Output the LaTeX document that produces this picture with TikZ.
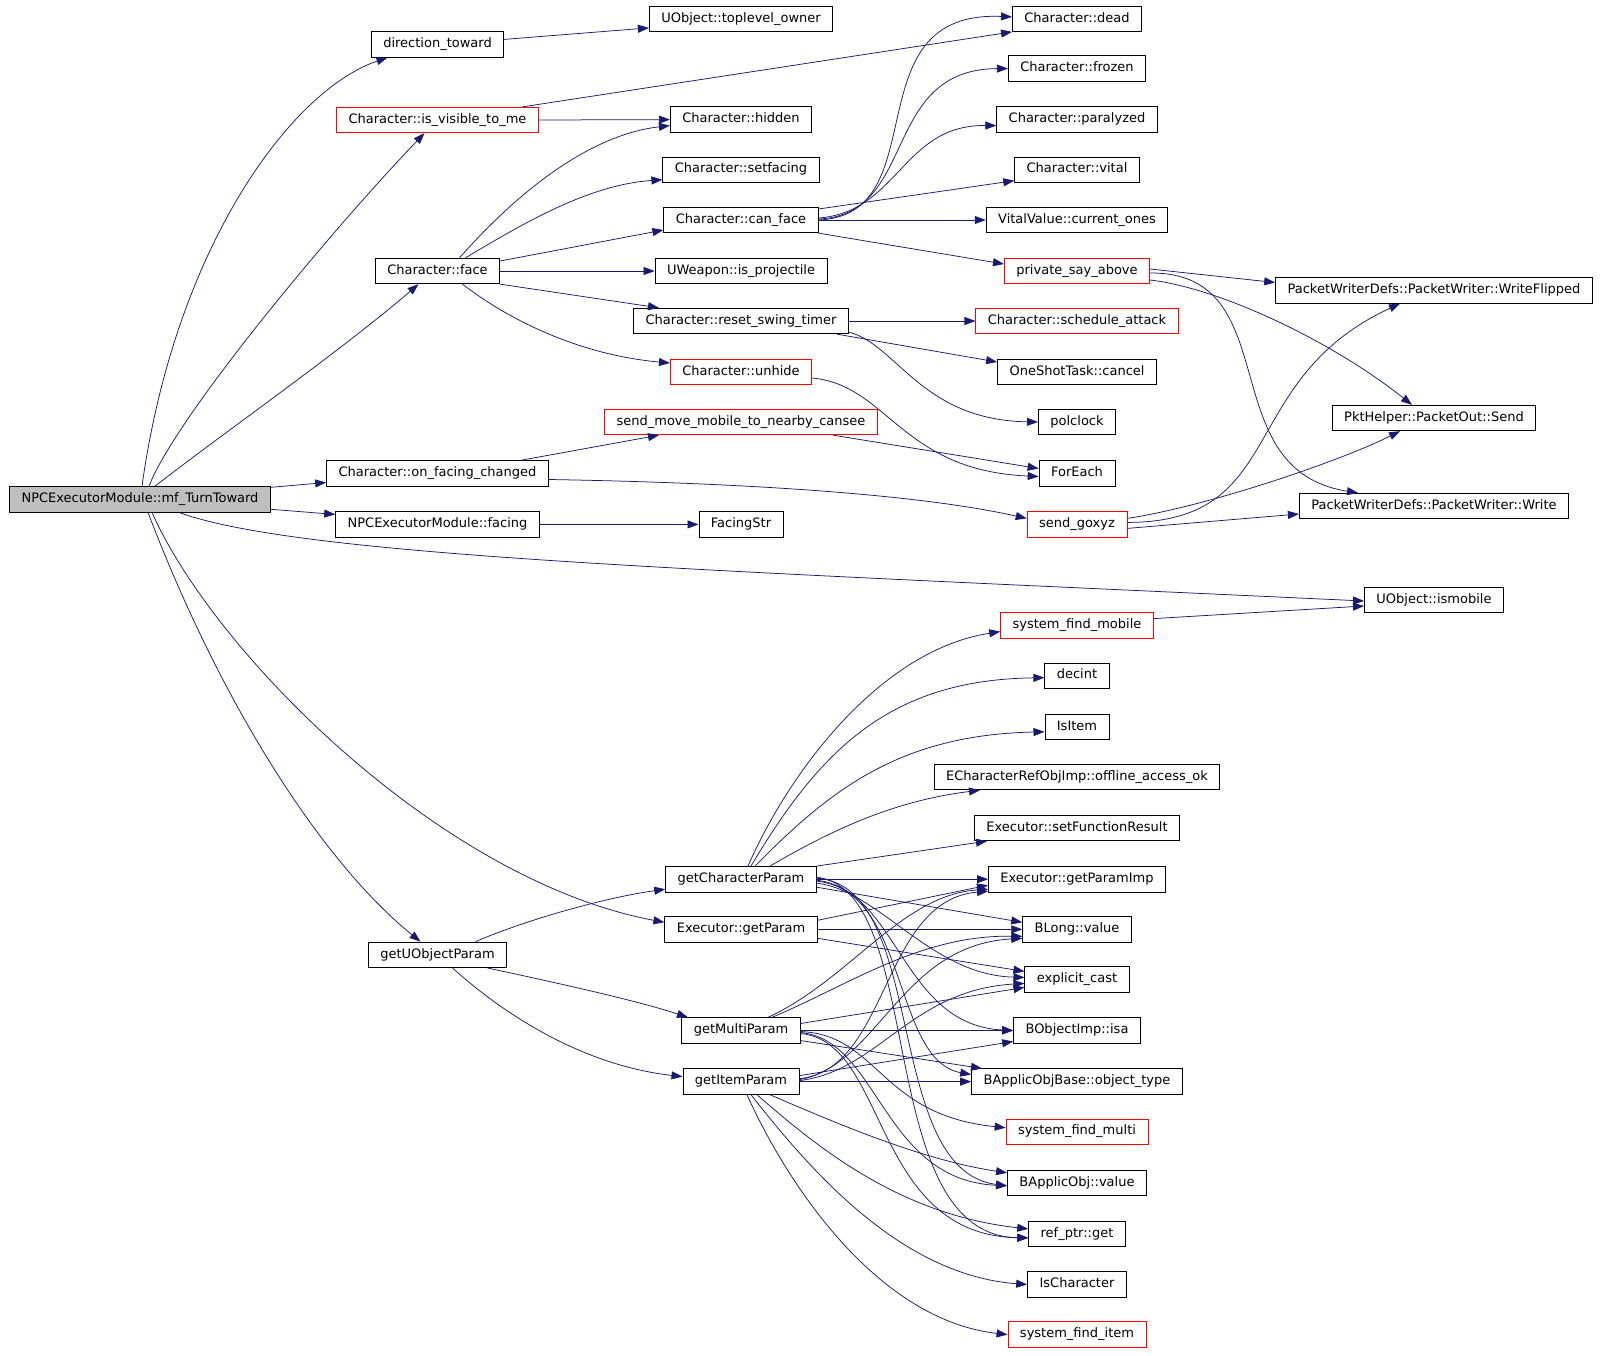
\documentclass[tikz,border=0pt]{standalone}
\usepackage{fontspec}
\setmainfont{DejaVu Sans}
\usepackage{tikz}
\usetikzlibrary{arrows.meta}
\usetikzlibrary{positioning}
\definecolor{navyedge}{HTML}{191970}
\definecolor{rootgray}{HTML}{BFBFBF}
\tikzset{fn/.style = {draw, line width = 0.8pt, inner xsep = 12pt, inner ysep = 0pt, minimum height = 25.5pt, text height = 9.5pt, text depth = 3pt, font = \fontsize{13}{15}\selectfont}}
\tikzset{fnred/.style = {fn, draw = red}}
\tikzset{fnroot/.style = {fn, fill = rootgray}}
\tikzset{call/.style = {draw = navyedge, line width = 0.75pt, -{Triangle[length = 11pt, width = 8pt]}}}

\begin{document}
\begin{tikzpicture}[x=1pt, y=-1pt]
            \useasboundingbox (0,0) rectangle (1603,1355);
            % functions
            \node [fnroot] (turn) at (140,499.3) {NPCExecutorModule::mf\_TurnToward};
            \node [fn] (dt) at (437.5,44.4) {direction\_toward};
            \node [fn] (tlo) at (741,18.9) {UObject::toplevel\_owner};
            \node [fnred] (iv) at (437.5,120) {Character::is\_visible\_to\_me};
            \node [fn] (dead) at (1077,18.9) {Character::dead};
            \node [fn] (froz) at (1077,68.5) {Character::frozen};
            \node [fn] (hid) at (741,119.6) {Character::hidden};
            \node [fn] (par) at (1077,119.6) {Character::paralyzed};
            \node [fn] (sf) at (741,169.7) {Character::setfacing};
            \node [fn] (vit) at (1077,169.7) {Character::vital};
            \node [fn] (cf) at (741,220) {Character::can\_face};
            \node [fn] (vv) at (1077,220) {VitalValue::current\_ones};
            \node [fn] (face) at (437.5,271) {Character::face};
            \node [fn] (uw) at (741,271) {UWeapon::is\_projectile};
            \node [fnred] (psa) at (1077,271) {private\_say\_above};
            \node [fn] (wf) at (1434,290.5) {PacketWriterDefs::PacketWriter::WriteFlipped};
            \node [fn] (rst) at (741,321) {Character::reset\_swing\_timer};
            \node [fnred] (sa) at (1077,321) {Character::schedule\_attack};
            \node [fnred] (uh) at (741,372) {Character::unhide};
            \node [fn] (ost) at (1077,372) {OneShotTask::cancel};
            \node [fnred] (smm) at (741,422) {send\_move\_mobile\_to\_nearby\_cansee};
            \node [fn] (pc) at (1077,422) {polclock};
            \node [fn] (pos) at (1434,418) {PktHelper::PacketOut::Send};
            \node [fn] (ofc) at (437.5,473.5) {Character::on\_facing\_changed};
            \node [fn] (fe) at (1077,473.5) {ForEach};
            \node [fn] (wr) at (1434,506) {PacketWriterDefs::PacketWriter::Write};
            \node [fn] (fac) at (437.5,524.4) {NPCExecutorModule::facing};
            \node [fn] (fs) at (741,524.4) {FacingStr};
            \node [fnred] (sg) at (1077,524.4) {send\_goxyz};
            \node [fn] (ism) at (1434,600) {UObject::ismobile};
            \node [fnred] (sfm) at (1077,625.6) {system\_find\_mobile};
            \node [fn] (dec) at (1077,675.7) {decint};
            \node [fn] (isi) at (1077,726.8) {IsItem};
            \node [fn] (ecr) at (1077,777) {ECharacterRefObjImp::offline\_access\_ok};
            \node [fn] (sfr) at (1077,828) {Executor::setFunctionResult};
            \node [fn] (gcp) at (741,879.2) {getCharacterParam};
            \node [fn] (gpi) at (1077,879.2) {Executor::getParamImp};
            \node [fn] (ep) at (741,929.3) {Executor::getParam};
            \node [fn] (bl) at (1077,929.3) {BLong::value};
            \node [fn] (guo) at (437.5,954.8) {getUObjectParam};
            \node [fn] (ec) at (1077,979.4) {explicit\_cast};
            \node [fn] (gmp) at (741,1030.5) {getMultiParam};
            \node [fn] (isa) at (1077,1030.5) {BObjectImp::isa};
            \node [fn] (gip) at (741,1081.6) {getItemParam};
            \node [fn] (ot) at (1077,1081.6) {BApplicObjBase::object\_type};
            \node [fnred] (sfmu) at (1077,1131.7) {system\_find\_multi};
            \node [fn] (bao) at (1077,1182.8) {BApplicObj::value};
            \node [fn] (rpg) at (1077,1233.9) {ref\_ptr::get};
            \node [fn] (ic) at (1077,1284.5) {IsCharacter};
            \node [fnred] (sfi) at (1077,1334.6) {system\_find\_item};

            % calls of mf_TurnToward
            \draw [call] ([xshift=2pt]turn.north) .. controls +(33,-238) and +(-97,33) .. ([xshift=-50pt]dt.south);
            \draw [call] ([xshift=9pt]turn.north) .. controls +(26,-68) and +(-94,98) .. ([xshift=-13pt]iv.south);
            \draw [call] ([xshift=15pt]turn.north) .. controls +(75,-58) and +(-78,67) .. ([xshift=-19pt]face.south);
            \draw [call] ([yshift=12pt]turn.east) -- ([yshift=-9pt]ofc.west);
            \draw [call] ([yshift=-10pt]turn.east) -- ([yshift=10pt]fac.west);
            \draw [call] ([xshift=39pt]turn.south) .. controls +(121,44) and +(-664,-31) .. ([yshift=-1pt]ism.west);
            \draw [call] ([xshift=12pt]turn.south) .. controls +(62,140) and +(-224,-42) .. ([yshift=7pt]ep.west);
            \draw [call] ([xshift=8pt]turn.south) .. controls +(72,189) and +(-100,-81) .. ([xshift=-17pt]guo.north);

            % upper part
            \draw [call] ([yshift=5pt]dt.east) -- ([yshift=-9pt]tlo.west);
            \draw [call] ([xshift=85pt]iv.north) -- ([yshift=-13pt]dead.west);
            \draw [call] (iv.east) -- (hid.west);
            \draw [call] ([xshift=22pt]face.north) .. controls +(60,-68) and +(-79,9) .. ([yshift=-6pt]hid.west);
            \draw [call] ([xshift=28pt]face.north) .. controls +(65,-39) and +(-71,5) .. ([yshift=-10pt]sf.west);
            \draw [call] ([yshift=10pt]face.east) -- ([yshift=-10pt]cf.west);
            \draw [call] (face.east) -- (uw.west);
            \draw [call] (face.south east) -- ([xshift=-82pt]rst.north);
            \draw [call] ([xshift=25pt]face.south) .. controls +(48,37) and +(-89,-8) .. ([yshift=9pt]uh.west);
            \draw [call] (cf.east) .. controls +(120,-5) and +(-162,-7) .. ([yshift=2pt]dead.west);
            \draw [call] ([yshift=1pt]cf.east) .. controls +(100,-4) and +(-128,1) .. (froz.west);
            \draw [call] ([yshift=2pt]cf.east) .. controls +(80,-6) and +(-94,-1) .. ([yshift=-6pt]par.west);
            \draw [call] ([yshift=11pt]cf.east) -- ([yshift=-11pt]vit.west);
            \draw [call] (cf.east) -- (vv.west);
            \draw [call] (cf.south east) -- ([yshift=7pt]psa.west);
            \draw [call] (rst.east) -- (sa.west);
            \draw [call] ([xshift=-12pt]rst.south east) -- ([yshift=10pt]ost.west);
            \draw [call] ([yshift=2pt]rst.south east) .. controls +(48,12) and +(-117,-2) .. (pc.west);
            \draw [call] ([yshift=-6pt]uh.east) .. controls +(76,7) and +(-138,-6) .. ([yshift=-3pt]fe.west);
            \draw [call] ([xshift=83pt]ofc.north) -- ([xshift=-82pt]smm.south);
            \draw [call] ([xshift=92pt]smm.south) -- ([yshift=5pt]fe.west);
            \draw [call] ([yshift=-6pt]ofc.east) .. controls +(149,2.5) and +(-126,-28) .. ([yshift=6pt]sg.west);
            \draw [call] (fac.east) -- (fs.west);
            \draw [call] ([yshift=2pt]psa.east) -- ([yshift=8pt]wf.west);
            \draw [call] ([yshift=-2pt]psa.east) .. controls +(139,-1) and +(-148,-23) .. ([xshift=-76pt]wr.north);
            \draw [call] ([yshift=-9pt]psa.east) .. controls +(69,8) and +(-82,-65) .. ([xshift=-22pt]pos.north);
            \draw [call] ([yshift=2pt]sg.east) .. controls +(162,0) and +(-165,76) .. ([xshift=-34pt]wf.south);
            \draw [call] ([yshift=6pt]sg.east) .. controls +(80,-12) and +(-60,30) .. ([xshift=-34pt]pos.south);
            \draw [call] ([yshift=-4pt]sg.east) -- ([yshift=-8pt]wr.west);
            \draw [call] ([yshift=7pt]sfm.east) -- ([yshift=-6pt]ism.west);

            % getUObjectParam and below
            \draw [call] ([xshift=38pt]guo.north) .. controls +(44.5,-19.5) and +(-64.5,9) .. ([yshift=-10pt]gcp.west);
            \draw [call] ([xshift=50pt]guo.south) .. controls +(60,13) and +(-55,-18) .. ([xshift=-53pt]gmp.north);
            \draw [call] ([xshift=15pt]guo.south) .. controls +(47.5,43) and +(-103,-11.6) .. ([yshift=5pt]gip.west);
            \draw [call] ([xshift=7pt]gcp.north) .. controls +(42,-96) and +(-119,18.4) .. ([yshift=-6pt]sfm.west);
            \draw [call] ([xshift=10pt]gcp.north) .. controls +(69,-116) and +(-155,2) .. ([yshift=-2pt]dec.west);
            \draw [call] ([xshift=14pt]gcp.north) .. controls +(75,-76) and +(-145,3) .. ([yshift=-5pt]isi.west);
            \draw [call] ([xshift=29pt]gcp.north) .. controls +(70,-41) and +(-80,10) .. ([xshift=-97pt]ecr.south);
            \draw [call] (gcp.north east) -- ([xshift=-90pt]sfr.south);
            \draw [call] (gcp.east) -- (gpi.west);
            \draw [call] ([yshift=-8pt]gcp.east) -- ([yshift=7pt]bl.west);
            \draw [call] ([yshift=-4pt]gcp.east) .. controls +(62,7) and +(-94,-2.4) .. ([yshift=2pt]ec.west);
            \draw [call] ([yshift=-1pt]gcp.east) .. controls +(82,10) and +(-112,-5.5) .. (isa.west);
            \draw [call] ([yshift=-2pt]gcp.east) .. controls +(92,9) and +(-79,-14.6) .. ([yshift=7pt]ot.west);
            \draw [call] ([yshift=1pt]gcp.east) .. controls +(112,7) and +(-125,-15.8) .. ([yshift=-3pt]bao.west);
            \draw [call] ([yshift=2pt]gcp.east) .. controls +(112,13) and +(-157,-3) .. ([yshift=-4pt]rpg.west);
            \draw [call] ([yshift=9pt]ep.east) -- ([yshift=-6pt]gpi.west);
            \draw [call] (ep.east) -- (bl.west);
            \draw [call] ([yshift=-9pt]ep.east) -- ([yshift=8pt]ec.west);
            \draw [call] ([xshift=27pt]gmp.north) .. controls +(82,-38) and +(-86.5,5.8) .. ([yshift=-10pt]gpi.west);
            \draw [call] ([xshift=31pt]gmp.north) .. controls +(78,-33) and +(-102,-1.3) .. ([yshift=-7pt]bl.west);
            \draw [call] ([yshift=7pt]gmp.east) -- ([yshift=-8pt]ec.west);
            \draw [call] (gmp.east) -- (isa.west);
            \draw [call] ([yshift=-10pt]gmp.east) -- ([xshift=-95pt]ot.north);
            \draw [call] ([yshift=-1pt]gmp.east) .. controls +(78.5,3.5) and +(-126,-12.7) .. ([yshift=4pt]sfmu.west);
            \draw [call] ([yshift=-2pt]gmp.east) .. controls +(78.5,7.5) and +(-125,-5.8) .. ([yshift=-3pt]bao.west);
            \draw [call] ([yshift=-3pt]gmp.east) .. controls +(88,8) and +(-157,-3) .. ([yshift=-4pt]rpg.west);
            \draw [call] ([yshift=3pt]gip.east) .. controls +(89.5,-8.6) and +(-106.5,8.8) .. ([yshift=-12pt]gpi.west);
            \draw [call] ([yshift=2pt]gip.east) .. controls +(80,-15) and +(-122,6.7) .. ([yshift=-9pt]bl.west);
            \draw [call] ([yshift=1pt]gip.east) .. controls +(80,-10) and +(-114,6.6) .. ([yshift=-4pt]ec.west);
            \draw [call] ([yshift=6pt]gip.east) -- ([yshift=-11pt]isa.west);
            \draw [call] (gip.east) -- (ot.west);
            \draw [call] ([xshift=29pt]gip.south) .. controls +(70,30) and +(-85,-12.8) .. ([yshift=10pt]bao.west);
            \draw [call] ([xshift=16pt]gip.south) .. controls +(63,55) and +(-127,-14) .. ([yshift=5pt]rpg.west);
            \draw [call] ([xshift=10pt]gip.south) .. controls +(59,75) and +(-127,-9.5) .. (ic.west);
            \draw [call] ([xshift=6pt]gip.south) .. controls +(43,95) and +(-128,-14.6) .. (sfi.west);

        \end{tikzpicture}
\end{document}
